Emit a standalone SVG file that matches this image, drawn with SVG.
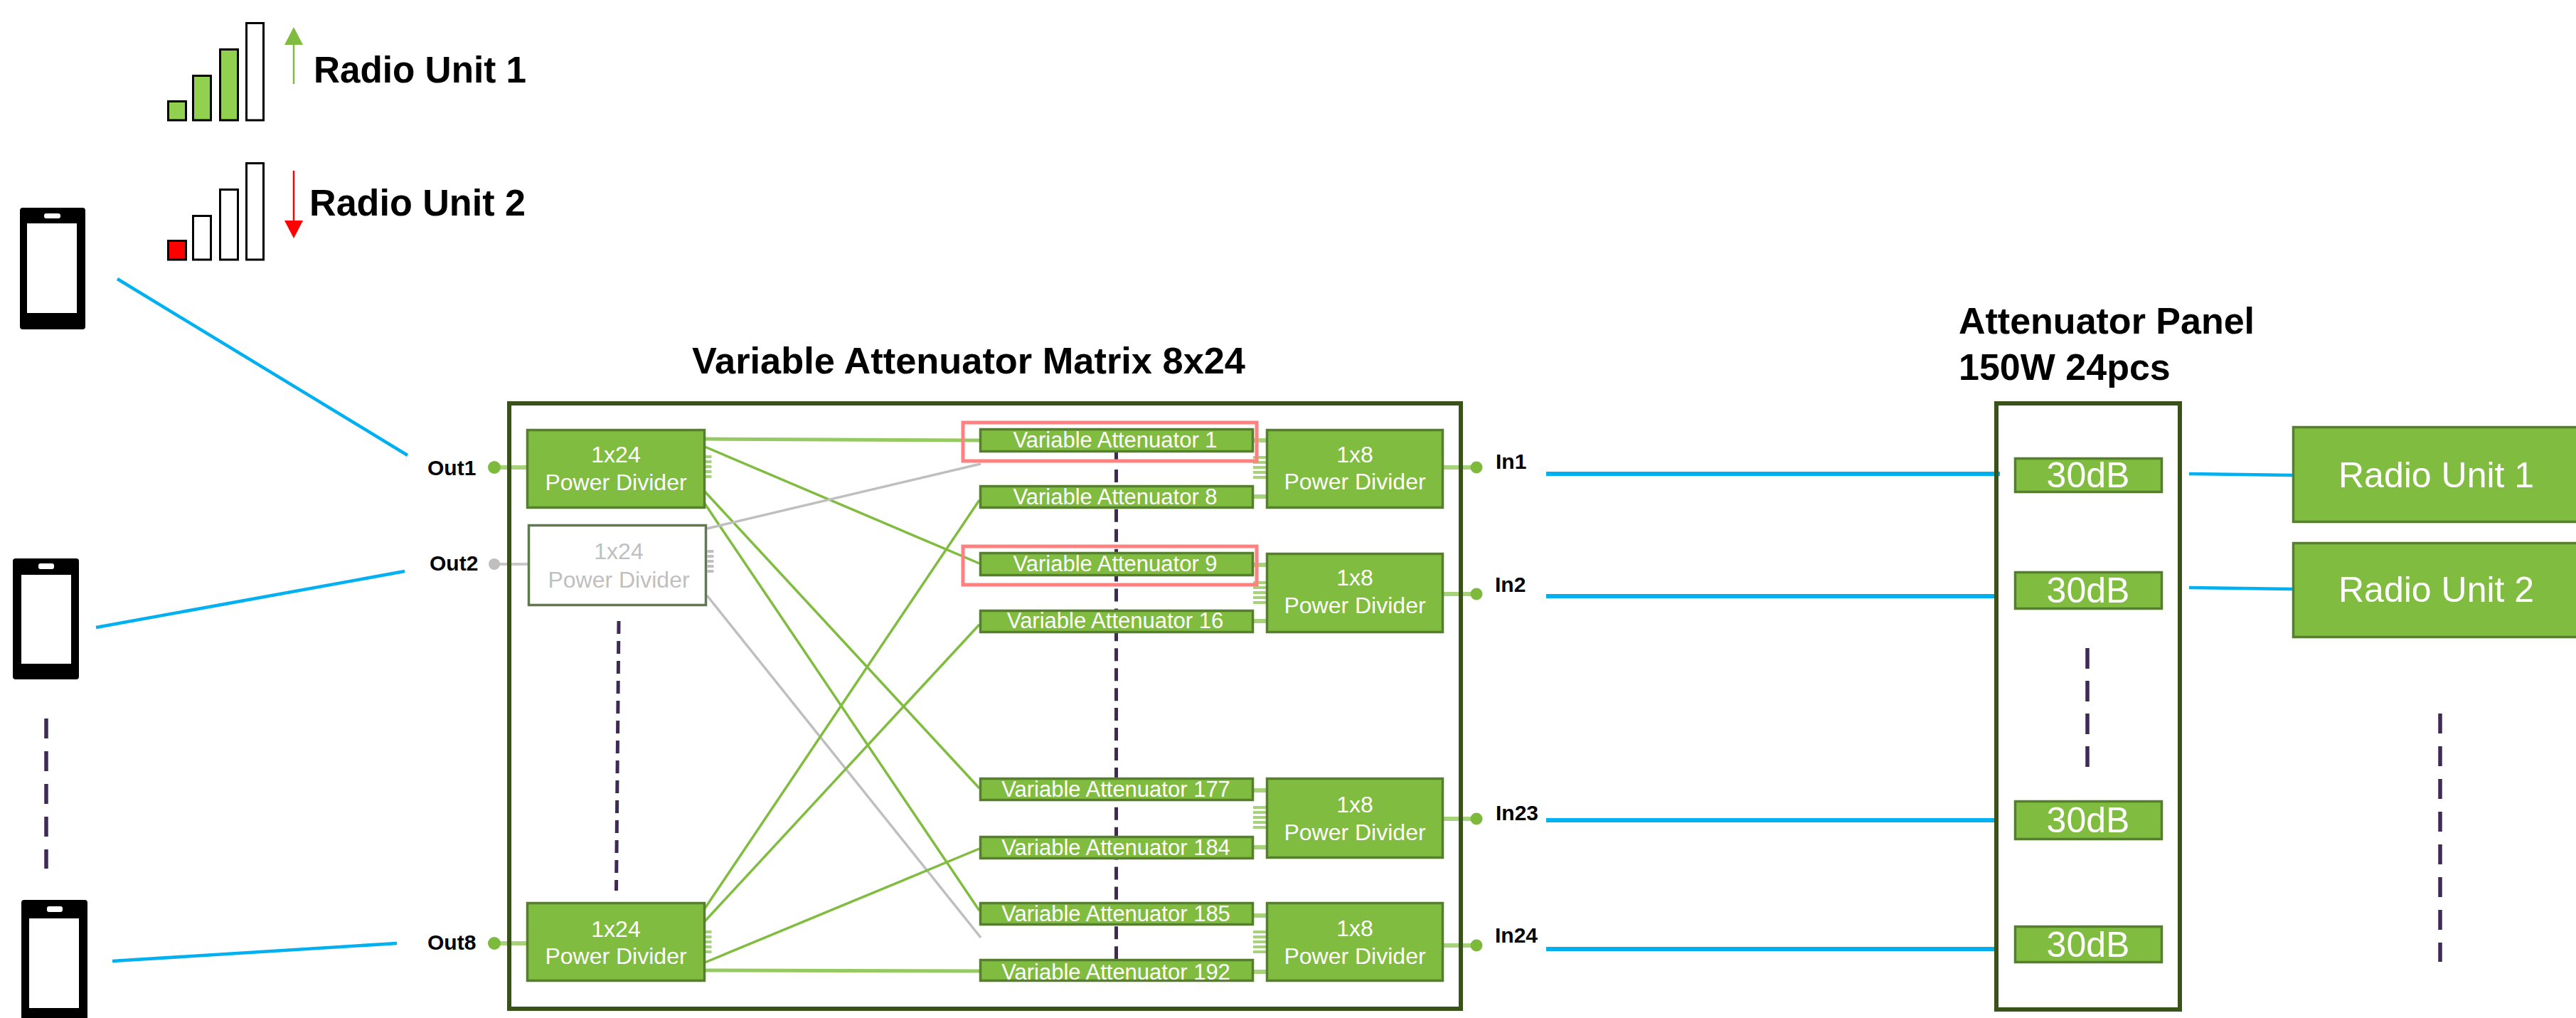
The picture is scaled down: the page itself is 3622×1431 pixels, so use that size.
<svg xmlns="http://www.w3.org/2000/svg" width="3622" height="1431" viewBox="0 0 3622 1431">
<style>
text{font-family:"Liberation Sans",Arial,sans-serif}
.b{font-weight:700;fill:#000}
.t52{font-size:52px}.t51{font-size:51px}.t30{font-size:30px}
.w{fill:#fff;text-anchor:middle}
.w31{font-size:31px}.w32{font-size:32px}.w50{font-size:50px}
.g{fill:#80bc3f;stroke:#557f2e;stroke-width:3.5}
.gd{fill:#fff;stroke:#5f7a4c;stroke-width:3.5}
.gt{fill:#bfbfbf;text-anchor:middle;font-size:32px}
.frame{fill:none;stroke:#385218;stroke-width:6}
.red{fill:none;stroke:#ff8080;stroke-width:5}
.blue{stroke:#00b0f0;stroke-width:6;fill:none}
.bluet{stroke:#00b0f0;stroke-width:4.5;fill:none}
.lg{stroke:#80bc3f;stroke-width:3.5;fill:none}
.lgt{stroke:#96c962;stroke-width:5;fill:none}
.lgr{stroke:#bfbfbf;stroke-width:3.5;fill:none}
.stub{stroke:#a6d27a;stroke-width:6;fill:none}
.stubg{stroke:#c8c8c8;stroke-width:4;fill:none}
.dash{stroke:#3f2a56;fill:none}
.comb{stroke:#a6d27a;fill:none;stroke-dasharray:4 3}
.combg{stroke:#c0c0c0;fill:none;stroke-dasharray:4 3}
.dot{fill:#7dba3c}
.dotg{fill:#bfbfbf}
.bar{stroke:#000;stroke-width:3}
.ph{fill:#000}.sc{fill:#fff}
</style>

<g id="connectors">
<line class="bluet" x1="165" y1="392" x2="573" y2="640"/>
<line class="bluet" x1="135" y1="882" x2="569" y2="803"/>
<line class="bluet" x1="158" y1="1351" x2="558" y2="1326"/>
<line class="blue" x1="2174" y1="666" x2="2812" y2="666"/>
<line class="blue" x1="2174" y1="838" x2="2804" y2="838"/>
<line class="blue" x1="2174" y1="1153" x2="2804" y2="1153"/>
<line class="blue" x1="2174" y1="1334" x2="2804" y2="1334"/>
<line class="bluet" x1="3078" y1="666" x2="3223" y2="668"/>
<line class="bluet" x1="3078" y1="826" x2="3223" y2="828"/>

<line class="stub" x1="695" y1="657" x2="740" y2="657"/>
<line class="stubg" x1="690" y1="793" x2="742" y2="793"/>
<line class="stub" x1="695" y1="1326" x2="740" y2="1326"/>
<line class="stub" x1="2030" y1="657" x2="2076" y2="657"/>
<line class="stub" x1="2030" y1="835" x2="2076" y2="835"/>
<line class="stub" x1="2030" y1="1151" x2="2076" y2="1151"/>
<line class="stub" x1="2030" y1="1329" x2="2076" y2="1329"/>

<line class="lgt" x1="991" y1="617" x2="1377" y2="619"/>
<line class="lg" x1="991" y1="628" x2="1377" y2="792"/>
<line class="lg" x1="991" y1="691" x2="1377" y2="1108"/>
<line class="lg" x1="991" y1="708" x2="1377" y2="1280"/>
<line class="lgr" x1="994" y1="743" x2="1379" y2="652"/>
<line class="lgr" x1="994" y1="837" x2="1379" y2="1318"/>
<line class="lg" x1="991" y1="1277" x2="1377" y2="703"/>
<line class="lg" x1="991" y1="1295" x2="1377" y2="878"/>
<line class="lg" x1="991" y1="1353" x2="1377" y2="1193"/>
<line class="lgt" x1="991" y1="1364" x2="1377" y2="1365"/>

<g class="stub">
<line x1="1762" y1="619" x2="1780" y2="619"/><line x1="1762" y1="698" x2="1780" y2="698"/>
<line x1="1762" y1="794" x2="1780" y2="794"/><line x1="1762" y1="873" x2="1780" y2="873"/>
<line x1="1762" y1="1111" x2="1780" y2="1111"/><line x1="1762" y1="1191" x2="1780" y2="1191"/>
<line x1="1762" y1="1287" x2="1780" y2="1287"/><line x1="1762" y1="1366" x2="1780" y2="1366"/>
</g>
<line class="comb" stroke-width="9" x1="996" y1="640" x2="996" y2="675"/>
<line class="combg" stroke-width="9" x1="999" y1="773" x2="999" y2="808"/>
<line class="comb" stroke-width="9" x1="996" y1="1308" x2="996" y2="1343"/>
<line class="comb" stroke-width="18" x1="1771" y1="641" x2="1771" y2="676"/>
<line class="comb" stroke-width="18" x1="1771" y1="817" x2="1771" y2="852"/>
<line class="comb" stroke-width="18" x1="1771" y1="1133" x2="1771" y2="1168"/>
<line class="comb" stroke-width="18" x1="1771" y1="1308" x2="1771" y2="1343"/>

<line class="dash" stroke-width="5" stroke-dasharray="18 10" x1="870" y1="873" x2="866.5" y2="1252"/>
<line class="dash" stroke-width="5" stroke-dasharray="18 9.93" x1="1569.5" y1="632" x2="1569.5" y2="1348"/>
<line class="dash" stroke-width="5.5" stroke-dasharray="28 18" x1="65" y1="1010" x2="65" y2="1221"/>
<line class="dash" stroke-width="5.5" stroke-dasharray="29 17" x1="2935" y1="911" x2="2935" y2="1078"/>
<line class="dash" stroke-width="5.5" stroke-dasharray="28 18" x1="3431" y1="1003" x2="3431" y2="1352"/>
</g>

<g id="signal-1">
<rect class="bar" x="236.5" y="142.5" width="25" height="26.5" fill="#92d050"/>
<rect class="bar" x="271.5" y="106.5" width="25" height="62.5" fill="#92d050"/>
<rect class="bar" x="309.5" y="69.5" width="25" height="99.5" fill="#92d050"/>
<rect class="bar" x="346.5" y="32.5" width="24" height="136.5" fill="#fff"/>
<line x1="413" y1="60" x2="413" y2="118" stroke="#80bc3f" stroke-width="2.5"/>
<polygon points="413,38 400,63 426,63" fill="#80bc3f"/>
<text class="b t51" x="441" y="116" textLength="299" lengthAdjust="spacingAndGlyphs">Radio Unit 1</text>
</g>
<g id="signal-2">
<rect class="bar" x="236.5" y="338.5" width="25" height="26.5" fill="#f00"/>
<rect class="bar" x="271.5" y="303.5" width="25" height="61.5" fill="#fff"/>
<rect class="bar" x="309.5" y="266.5" width="25" height="98.5" fill="#fff"/>
<rect class="bar" x="346.5" y="229.5" width="24" height="135.5" fill="#fff"/>
<line x1="413" y1="240" x2="413" y2="312" stroke="#f00" stroke-width="2.5"/>
<polygon points="413,335 400,310 426,310" fill="#f00"/>
<text class="b t51" x="435" y="303" textLength="304" lengthAdjust="spacingAndGlyphs">Radio Unit 2</text>
</g>

<g id="phone-1">
<rect class="ph" x="28" y="292" width="92" height="171" rx="4"/>
<rect class="sc" x="38" y="314" width="70" height="126"/>
<rect class="sc" x="62" y="300" width="23" height="7" rx="3"/>
</g>
<g id="phone-2">
<rect class="ph" x="18" y="785" width="93" height="170" rx="4"/>
<rect class="sc" x="30" y="808" width="70" height="125"/>
<rect class="sc" x="54" y="792" width="22" height="8" rx="3"/>
</g>
<g id="phone-3">
<rect class="ph" x="30" y="1265" width="93" height="180" rx="4"/>
<rect class="sc" x="41" y="1291" width="70" height="126"/>
<rect class="sc" x="66" y="1274" width="22" height="8" rx="3"/>
</g>

<g id="matrix">
<rect class="frame" x="716" y="567" width="1338" height="851"/>
<text class="b t52" x="973" y="525" textLength="778" lengthAdjust="spacingAndGlyphs">Variable Attenuator Matrix 8x24</text>
</g>

<g id="out1"><circle class="dot" cx="695" cy="657" r="9"/><text class="b t30" x="601" y="668">Out1</text></g>
<g id="out2"><circle class="dotg" cx="695" cy="793" r="8"/><text class="b t30" x="604" y="802">Out2</text></g>
<g id="out8"><circle class="dot" cx="695" cy="1326" r="9"/><text class="b t30" x="601" y="1335">Out8</text></g>

<g id="div-out1"><rect class="g" x="741.5" y="604.5" width="249" height="109"/><text class="w w32" x="866" y="650">1x24</text><text class="w w32" x="866" y="689">Power Divider</text></g>
<g id="div-out2"><rect class="gd" x="743.5" y="738.5" width="249" height="112"/><text class="gt" x="870" y="786">1x24</text><text class="gt" x="870" y="826">Power Divider</text></g>
<g id="div-out8"><rect class="g" x="741.5" y="1269.5" width="249" height="109"/><text class="w w32" x="866" y="1317">1x24</text><text class="w w32" x="866" y="1355">Power Divider</text></g>

<g id="va1"><rect class="g" x="1378.5" y="603.5" width="383" height="31"/><text class="w w31" x="1568" y="629">Variable Attenuator 1</text></g>
<g id="va8"><rect class="g" x="1378.5" y="683.5" width="383" height="30"/><text class="w w31" x="1568" y="709">Variable Attenuator 8</text></g>
<g id="va9"><rect class="g" x="1378.5" y="777.5" width="383" height="31"/><text class="w w31" x="1568" y="803">Variable Attenuator 9</text></g>
<g id="va16"><rect class="g" x="1378.5" y="858.5" width="383" height="30"/><text class="w w31" x="1568" y="883">Variable Attenuator 16</text></g>
<g id="va177"><rect class="g" x="1378.5" y="1094.5" width="383" height="30"/><text class="w w31" x="1569" y="1120">Variable Attenuator 177</text></g>
<g id="va184"><rect class="g" x="1378.5" y="1176.5" width="383" height="30"/><text class="w w31" x="1569" y="1202">Variable Attenuator 184</text></g>
<g id="va185"><rect class="g" x="1378.5" y="1269.5" width="383" height="30"/><text class="w w31" x="1569" y="1295">Variable Attenuator 185</text></g>
<g id="va192"><rect class="g" x="1378.5" y="1349.5" width="383" height="29"/><text class="w w31" x="1569" y="1377">Variable Attenuator 192</text></g>

<g id="highlight-1"><rect class="red" x="1354" y="594" width="413" height="54"/></g>
<g id="highlight-2"><rect class="red" x="1354" y="768" width="413" height="54"/></g>

<g id="div-in1"><rect class="g" x="1781.5" y="604.5" width="247" height="109"/><text class="w w32" x="1905" y="650">1x8</text><text class="w w32" x="1905" y="688">Power Divider</text></g>
<g id="div-in2"><rect class="g" x="1781.5" y="778.5" width="247" height="110"/><text class="w w32" x="1905" y="823">1x8</text><text class="w w32" x="1905" y="862">Power Divider</text></g>
<g id="div-in23"><rect class="g" x="1781.5" y="1094.5" width="247" height="111"/><text class="w w32" x="1905" y="1142">1x8</text><text class="w w32" x="1905" y="1181">Power Divider</text></g>
<g id="div-in24"><rect class="g" x="1781.5" y="1269.5" width="247" height="109"/><text class="w w32" x="1905" y="1316">1x8</text><text class="w w32" x="1905" y="1355">Power Divider</text></g>

<g id="in1"><circle class="dot" cx="2076" cy="657" r="8.5"/><text class="b t30" x="2103" y="659">In1</text></g>
<g id="in2"><circle class="dot" cx="2076" cy="835" r="8.5"/><text class="b t30" x="2102" y="832">In2</text></g>
<g id="in23"><circle class="dot" cx="2076" cy="1151" r="8.5"/><text class="b t30" x="2103" y="1153">In23</text></g>
<g id="in24"><circle class="dot" cx="2076" cy="1329" r="8.5"/><text class="b t30" x="2102" y="1325">In24</text></g>

<g id="panel">
<rect class="frame" x="2807" y="567" width="258" height="852"/>
<text class="b t52" x="2754" y="469">Attenuator Panel</text>
<text class="b t52" x="2754" y="534">150W 24pcs</text>
</g>
<g id="att1"><rect class="g" x="2833.5" y="644.5" width="206" height="47"/><text class="w w50" x="2936" y="685">30dB</text></g>
<g id="att2"><rect class="g" x="2833.5" y="804.5" width="206" height="51"/><text class="w w50" x="2936" y="847">30dB</text></g>
<g id="att23"><rect class="g" x="2833.5" y="1126.5" width="206" height="53"/><text class="w w50" x="2936" y="1170">30dB</text></g>
<g id="att24"><rect class="g" x="2833.5" y="1302.5" width="206" height="50"/><text class="w w50" x="2936" y="1345">30dB</text></g>

<g id="radio-unit-1"><rect class="g" x="3224.5" y="600.5" width="420" height="133"/><text class="w50" fill="#fff" x="3288" y="685">Radio Unit 1</text></g>
<g id="radio-unit-2"><rect class="g" x="3224.5" y="763.5" width="420" height="132"/><text class="w50" fill="#fff" x="3288" y="846">Radio Unit 2</text></g>
</svg>
